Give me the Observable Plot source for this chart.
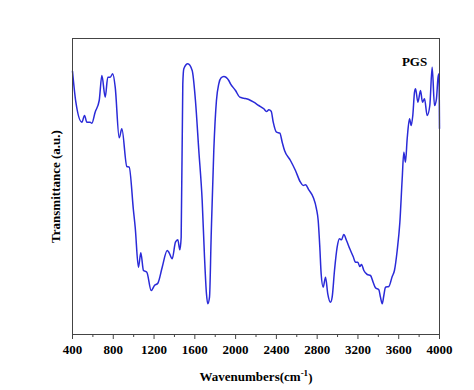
<!DOCTYPE html>
<html>
<head>
<meta charset="utf-8">
<script src="https://cdn.jsdelivr.net/npm/d3@7"></script>
<script src="https://cdn.jsdelivr.net/npm/@observablehq/plot@0.6"></script>
<style>
  html, body { margin: 0; padding: 0; background: #fff; }
  #chart { width: 474px; height: 390px; }
</style>
</head>
<body>
<div id="chart"></div>
<script>
const wavenumbers = [400,433,492,518,541,573,590,622,662,688,721,746,770,795,819,858,884,933,956,998,1015,1047,1070,1096,1129,1172,1204,1237,1280,1329,1345,1378,1410,1433,1453,1466,1482,1492,1531,1574,1606,1639,1672,1695,1714,1727,1744,1760,1786,1812,1835,1858,1884,1933,1950,1999,2041,2080,2129,2178,2227,2277,2303,2326,2349,2369,2401,2434,2457,2480,2538,2587,2636,2663,2686,2718,2761,2793,2810,2826,2839,2859,2882,2904,2931,2947,2970,2996,3019,3039,3061,3088,3120,3153,3176,3199,3218,3235,3258,3291,3323,3349,3372,3405,3421,3438,3454,3470,3503,3536,3558,3585,3611,3634,3650,3666,3683,3706,3722,3738,3755,3765,3788,3814,3833,3853,3879,3905,3928,3951,3970,3986,3996,4000];
const transmittance = [263.3,232.3,212.3,219,212.3,212.3,211.3,222.3,234,259,237.3,257.3,257.3,260.7,247.3,196.7,205.7,168,167.3,124,107.3,67.3,81.7,64,62.3,44,49,51.3,67.3,84,82.3,75.7,92.3,94.7,84.7,97.3,250.7,265.7,270.7,264,234,184,134,77.3,40.7,30.7,37.3,97.3,184,234,250.7,256.7,258,254,250.7,244,237.3,236.3,235,232.3,229,225.7,223,224.7,223.3,212.3,202.3,201.3,192.3,184,174,164,152.3,149,149.7,144.7,137.3,125.7,114,87.3,60.7,47.3,57.3,40.7,32.3,37.3,64,87.3,95.7,94.7,100,94,85.7,78,72.3,72.3,68,70,64,60,59,52.3,46.7,44.7,37.3,30.7,39,47.3,48,58,64,84,112,155.7,182.3,172.3,195.7,215.7,209,219,242.3,245.7,232.3,244,232.3,235.7,219,229,267.3,229,235.7,257.3,260.7,206];
const majorTicks = [400,800,1200,1600,2000,2400,2800,3200,3600,4000];
const minorTicks = [600,1000,1400,1800,2200,2600,3000,3400,3800];
const sampleLabel = [{x: 3755, y: 273, text: "PGS"}];

const data = wavenumbers.map((w, i) => ({w, t: transmittance[i]}));
const serif = "'Liberation Serif', 'Times New Roman', serif";

const chart = Plot.plot({
  width: 474,
  height: 390,
  marginLeft: 72,
  marginRight: 35,
  marginTop: 38,
  marginBottom: 56,
  style: {fontFamily: serif, fontWeight: "bold", fontSize: "13px", color: "#000", background: "#fff"},
  x: {domain: [400, 4000]},
  y: {domain: [0, 296]},
  marks: [
    Plot.line(data, {x: "w", y: "t", stroke: "#2a2ad8", strokeWidth: 1.5, curve: "monotone-x"}),
    Plot.frame({stroke: "#444", strokeWidth: 1}),
    Plot.axisX({ticks: minorTicks, tickSize: 3, text: null, label: null, stroke: "#444"}),
    Plot.axisX({ticks: majorTicks, tickSize: 5, tickPadding: 5, tickFormat: d => String(d), stroke: "#444",
      fill: "#000", fontSize: 13, fontWeight: "bold",
      label: "Wavenumbers(cm-1)", labelAnchor: "center", labelArrow: "none", labelOffset: 46}),
    Plot.axisY({ticks: [], label: "Transmittance (a.u.)", labelAnchor: "center", labelArrow: "none", labelOffset: 22, fontSize: 13}),
    Plot.text(sampleLabel, {x: "x", y: "y", text: "text", fontSize: 13, fontWeight: "bold", fill: "#000"})
  ]
});
document.getElementById("chart").appendChild(chart);

// superscript for the unit
d3.select(chart).selectAll("text").each(function() {
  const el = d3.select(this);
  if (el.text() === "Wavenumbers(cm-1)") {
    el.text(null);
    el.append("tspan").text("Wavenumbers(cm");
    el.append("tspan").attr("dy", "-0.45em").attr("font-size", "9px").text("-1");
    el.append("tspan").attr("dy", "0.45em").text(")");
  }
});
</script>
</body>
</html>
